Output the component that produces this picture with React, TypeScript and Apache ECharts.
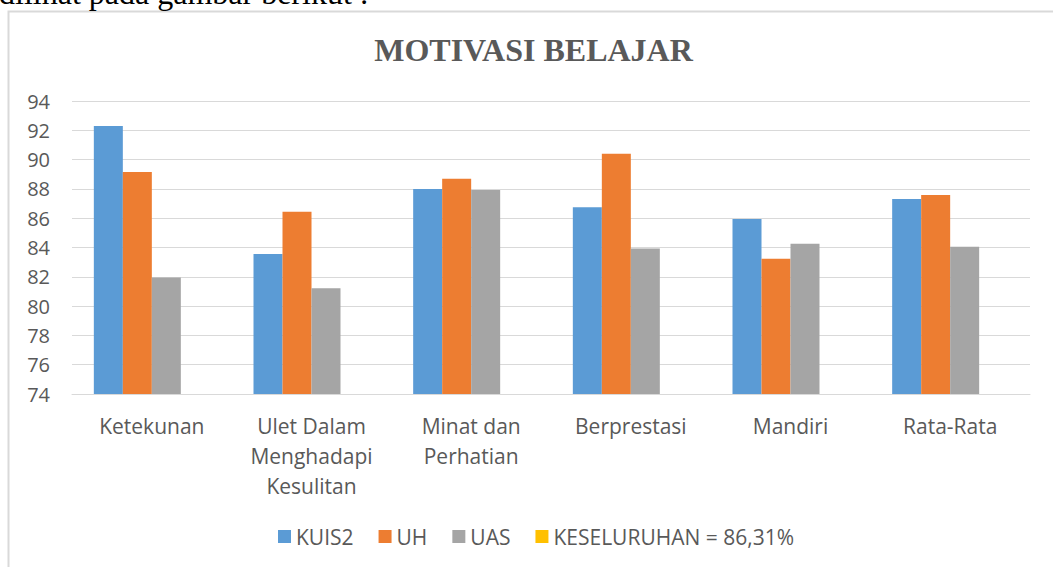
import React, { useEffect, useRef } from "react";
import * as echarts from "echarts";

const categories = ["Ketekunan", "Ulet Dalam\nMenghadapi\nKesulitan", "Minat dan\nPerhatian", "Berprestasi", "Mandiri", "Rata-Rata"];
const kuis2 = [92.3, 83.55, 88.0, 86.74, 85.95, 87.31];
const uh = [89.15, 86.44, 88.7, 90.4, 83.24, 87.58];
const uas = [81.96, 81.21, 87.93, 83.94, 84.26, 84.05];
const keseluruhan: number[] = [];
const seriesNames = ["KUIS2", "UH", "UAS", "KESELURUHAN = 86,31%"];
const colors = ["#5B9BD5", "#ED7D31", "#A5A5A5", "#FFC000"];
const yMin = 74;
const yMax = 94;
const yStep = 2;

export default function App() {
  const ref = useRef<HTMLDivElement>(null);
  useEffect(() => {
    if (!ref.current) return;
    const chart = echarts.init(ref.current, undefined, { renderer: "svg" });
    const font = "'Open Sans', 'Noto Sans', sans-serif";
    const data = [kuis2, uh, uas, keseluruhan];
    chart.setOption({
      animation: false,
      backgroundColor: "#ffffff",
      graphic: [
        {
          type: "rect",
          z: -10,
          shape: { x: 8.5, y: 11.5, width: 1100, height: 600 },
          style: { fill: "#ffffff", stroke: "#d9d9d9", lineWidth: 2 },
          silent: true,
        },
        {
          type: "text",
          x: -1,
          y: -7,
          style: {
            text: "dilihat pada gambar berikut :",
            font: "32px 'Liberation Serif', 'Times New Roman', serif",
            fill: "#000000",
            align: "left",
            verticalAlign: "middle",
          },
          silent: true,
        },
        {
          type: "text",
          x: 533.5,
          y: 50,
          style: {
            text: "MOTIVASI BELAJAR",
            font: "bold 32px 'Liberation Serif', 'Times New Roman', serif",
            fill: "#595959",
            align: "center",
            verticalAlign: "middle",
          },
          silent: true,
        },
      ],
      grid: { left: 72, right: 23, top: 101, bottom: 173, containLabel: false },
      legend: {
        data: seriesNames,
        left: 273,
        top: 521,
        icon: "rect",
        itemWidth: 13,
        itemHeight: 13,
        itemGap: 25,
        textStyle: { color: "#595959", fontSize: 21, fontFamily: font },
      },
      xAxis: {
        type: "category",
        data: categories,
        axisLine: { lineStyle: { color: "#d9d9d9", width: 1 } },
        axisTick: { show: false },
        axisLabel: {
          color: "#595959",
          fontSize: 21,
          fontFamily: font,
          lineHeight: 30,
          margin: 17,
          interval: 0,
        },
      },
      yAxis: {
        type: "value",
        min: yMin,
        max: yMax,
        interval: yStep,
        axisLine: { show: false },
        axisTick: { show: false },
        splitLine: { lineStyle: { color: "#d9d9d9", width: 1 } },
        axisLabel: { color: "#595959", fontSize: 20, fontFamily: font, margin: 22 },
      },
      series: seriesNames.map((name, i) => ({
        name,
        type: "bar",
        data: data[i],
        barWidth: 29,
        barGap: "0%",
        itemStyle: { color: colors[i] },
      })),
    });
    return () => chart.dispose();
  }, []);
  return (
    <div
      ref={ref}
      style={{ position: "fixed", left: 0, top: 0, width: 1053, height: 567 }}
    />
  );
}
